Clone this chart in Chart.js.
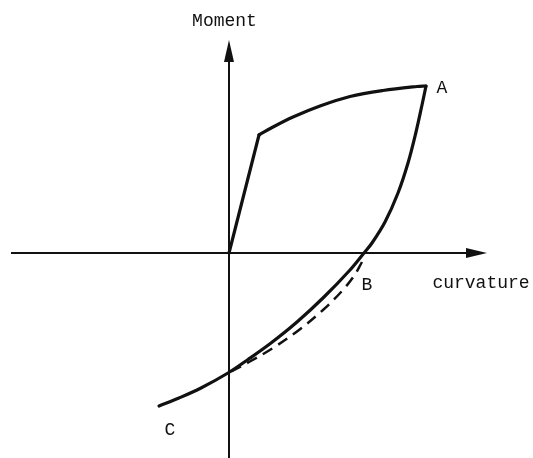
<!DOCTYPE html>
<html>
<head>
<meta charset="utf-8">
<script src="https://cdn.jsdelivr.net/npm/chart.js@4/dist/chart.umd.min.js"></script>
<style>
html,body{margin:0;padding:0;background:#fff;}
#c{display:block;}
</style>
</head>
<body>
<canvas id="c" width="533" height="458"></canvas>
<script>
// Moment–curvature diagram (arbitrary units, origin at axis crossing)
const elasticBranch = [ {x:0,y:0}, {x:0.60,y:2.36} ];
const hardeningBranch = [
  {x:0.60,y:2.36},{x:0.88,y:2.52},{x:1.28,y:2.72},{x:1.82,y:2.94},
  {x:2.42,y:3.13},{x:3.08,y:3.25},{x:3.76,y:3.33},{x:3.94,y:3.34}
];
const unloadingBranch = [
  {x:3.94,y:3.34},{x:3.86,y:2.96},{x:3.74,y:2.42},{x:3.58,y:1.80},
  {x:3.38,y:1.20},{x:3.12,y:0.62},{x:2.86,y:0.20},{x:2.70,y:0},
  {x:2.42,y:-0.34},{x:1.90,y:-0.88},{x:1.36,y:-1.38},{x:0.84,y:-1.80},
  {x:0.38,y:-2.13},{x:-0.02,y:-2.40},{x:-0.56,y:-2.70},{x:-1.00,y:-2.90},
  {x:-1.40,y:-3.06}
];
const dashedBranch = [
  {x:2.66,y:-0.18},{x:2.50,y:-0.46},{x:2.26,y:-0.76},{x:1.88,y:-1.14},
  {x:1.40,y:-1.54},{x:0.88,y:-1.90},{x:0.40,y:-2.18},{x:0.02,y:-2.38}
];
const xAxisLine = [ {x:-4.36,y:0}, {x:5.00,y:0} ];
const yAxisLine = [ {x:0,y:-4.20}, {x:0,y:4.10} ];
const arrowTips = { x:{x:5.16,y:0}, y:{x:0,y:4.26} };
const labels = [
  {text:'Moment',   x:-0.09, y:4.63},
  {text:'curvature',x:5.04,  y:-0.60},
  {text:'A',        x:4.26,  y:3.30},
  {text:'B',        x:2.76,  y:-0.64},
  {text:'C',        x:-1.18, y:-3.54}
];

const ink = '#111';
function ds(data, opts){
  return Object.assign({data, showLine:true, borderColor:ink, borderWidth:3.2,
    pointRadius:0, fill:false, tension:0, borderCapStyle:'round', borderJoinStyle:'round'}, opts||{});
}

const annotate = {
  id:'annotate',
  afterDatasetsDraw(chart){
    const ctx = chart.ctx, xs = chart.scales.x, ys = chart.scales.y;
    ctx.save();
    ctx.fillStyle = ink;
    let tx = xs.getPixelForValue(arrowTips.x.x), ty = ys.getPixelForValue(arrowTips.x.y);
    ctx.beginPath(); ctx.moveTo(tx,ty); ctx.lineTo(tx-21,ty-5); ctx.lineTo(tx-21,ty+5); ctx.closePath(); ctx.fill();
    tx = xs.getPixelForValue(arrowTips.y.x); ty = ys.getPixelForValue(arrowTips.y.y);
    ctx.beginPath(); ctx.moveTo(tx,ty); ctx.lineTo(tx-5,ty+22); ctx.lineTo(tx+5,ty+22); ctx.closePath(); ctx.fill();
    ctx.font = '18px "Liberation Mono", "DejaVu Sans Mono", monospace';
    ctx.textAlign = 'center'; ctx.textBaseline = 'middle';
    labels.forEach(l => ctx.fillText(l.text, xs.getPixelForValue(l.x), ys.getPixelForValue(l.y)));
    ctx.restore();
  }
};

new Chart(document.getElementById('c'), {
  type:'scatter',
  data:{ datasets:[
    ds(xAxisLine,{borderWidth:2, borderCapStyle:'butt'}),
    ds(yAxisLine,{borderWidth:2, borderCapStyle:'butt'}),
    ds(elasticBranch),
    ds(hardeningBranch,{tension:0.35}),
    ds(unloadingBranch,{tension:0.35}),
    ds(dashedBranch,{borderWidth:2.5, borderDash:[11,7], borderCapStyle:'butt', tension:0.35})
  ]},
  options:{
    responsive:false, animation:false,
    layout:{padding:0},
    plugins:{legend:{display:false}, tooltip:{enabled:false}},
    scales:{
      x:{type:'linear', min:-4.58, max:6.08, display:false},
      y:{type:'linear', min:-4.10, max:5.06, display:false}
    }
  },
  plugins:[annotate]
});
</script>
</body>
</html>
